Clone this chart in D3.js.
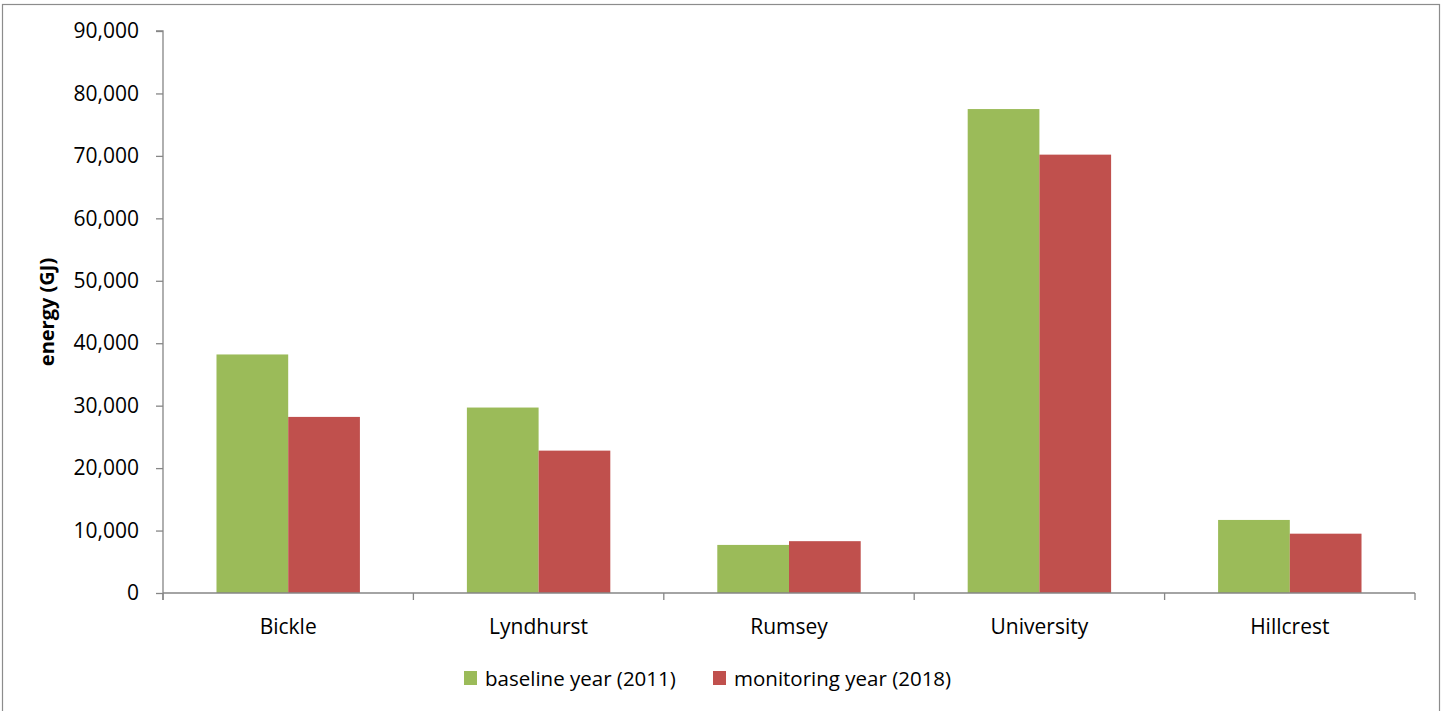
<!DOCTYPE html>
<html>
<head>
<meta charset="utf-8">
<script src="https://cdn.jsdelivr.net/npm/d3@7"></script>
<style>
  html, body { margin: 0; padding: 0; background: #fff; }
  svg { display: block; }
  text { font-family: "Open Sans", "Liberation Sans", sans-serif; fill: #000; }
</style>
</head>
<body>
<svg id="chart" width="1442" height="711"></svg>
<script>
// Site energy use, baseline vs monitoring year
const sites = ["Bickle", "Lyndhurst", "Rumsey", "University", "Hillcrest"];
const seriesNames = ["baseline year (2011)", "monitoring year (2018)"];
const baseline2011 = [38200, 29700, 7700, 77500, 11700];
const monitoring2018 = [28200, 22800, 8300, 70200, 9500];
const yTicks = [0, 10000, 20000, 30000, 40000, 50000, 60000, 70000, 80000, 90000];
const colors = ["#9BBB59", "#C0504D"];

const svg = d3.select("#chart");
const axisColor = "#868686";

// outer chart frame
svg.append("rect")
  .attr("x", 2.5).attr("y", 4.5)
  .attr("width", 1437).attr("height", 720)
  .attr("fill", "none").attr("stroke", "#8c8c8c").attr("stroke-width", 1.2);

const plot = { left: 163, right: 1415, top: 31, bottom: 593 };

const x = d3.scaleBand().domain(sites).range([plot.left, plot.right]).paddingInner(0).paddingOuter(0);
const inner = d3.scaleBand().domain([0, 1]).range([0, x.bandwidth()]).paddingInner(0).paddingOuter(0.746);
const y = d3.scaleLinear().domain([0, 90000]).range([plot.bottom, plot.top]);

// bars
const rows = sites.map((s, i) => ({ site: s, values: [baseline2011[i], monitoring2018[i]] }));
const groups = svg.append("g").selectAll("g").data(rows).join("g")
  .attr("transform", d => `translate(${x(d.site)},0)`);
groups.selectAll("rect").data(d => d.values.map((v, k) => ({ v, k }))).join("rect")
  .attr("x", d => inner(d.k))
  .attr("width", inner.bandwidth())
  .attr("y", d => y(d.v))
  .attr("height", d => y(0) - y(d.v))
  .attr("fill", d => colors[d.k]);

// y axis
const fmt = d3.format(",");
const yAxis = svg.append("g").attr("transform", `translate(${plot.left},0)`)
  .call(d3.axisLeft(y).tickValues(yTicks).tickFormat(fmt).tickSize(7).tickPadding(17));
yAxis.select(".domain").attr("stroke", axisColor).attr("stroke-width", 1.3)
  .attr("d", `M-7,${plot.top}H0V${plot.bottom + 7}`);
yAxis.selectAll(".tick line").attr("stroke", axisColor).attr("stroke-width", 1.3);
yAxis.selectAll(".tick text").attr("font-size", 21).style("font-family", "'Open Sans', sans-serif").attr("fill", "#000");

// x axis: category labels centred, tick marks at the band boundaries
const xAxisG = svg.append("g").attr("transform", `translate(0,${plot.bottom})`);
xAxisG.append("line").attr("x1", plot.left).attr("x2", plot.right).attr("y1", 0).attr("y2", 0)
  .attr("stroke", axisColor).attr("stroke-width", 1.3);
const boundaries = sites.map(s => x(s)).concat([plot.right]);
xAxisG.selectAll("line.b").data(boundaries).join("line").attr("class", "b")
  .attr("x1", d => d).attr("x2", d => d).attr("y1", 0).attr("y2", 7)
  .attr("stroke", axisColor).attr("stroke-width", 1.3);
xAxisG.selectAll("text").data(sites).join("text")
  .attr("x", d => x(d) + x.bandwidth() / 2)
  .attr("y", 41)
  .attr("text-anchor", "middle")
  .attr("font-size", 21)
  .text(d => d);

// y axis title
svg.append("text")
  .attr("transform", "translate(54,312) rotate(-90)")
  .attr("text-anchor", "middle")
  .attr("font-size", 20)
  .attr("font-weight", "bold")
  .text("energy (GJ)");

// legend
const legendItems = [{ x: 464, k: 0 }, { x: 713, k: 1 }];
const legend = svg.append("g");
legendItems.forEach(it => {
  legend.append("rect").attr("x", it.x).attr("y", 671).attr("width", 13).attr("height", 14)
    .attr("fill", colors[it.k]);
  legend.append("text").attr("x", it.x + 21).attr("y", 686).attr("font-size", 20.5)
    .text(seriesNames[it.k]);
});
</script>
</body>
</html>
